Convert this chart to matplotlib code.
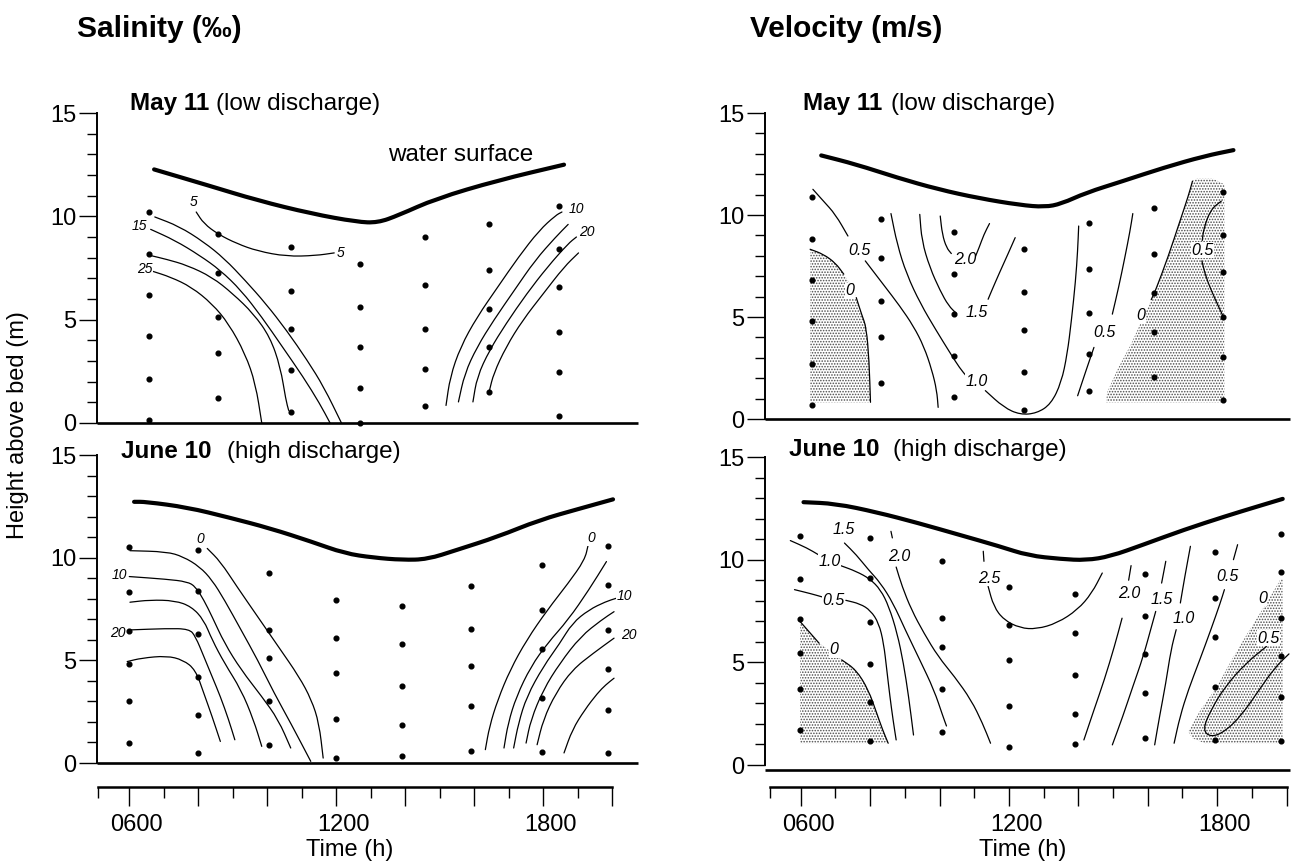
import numpy as np
import matplotlib
matplotlib.use("Agg")
import matplotlib.pyplot as plt
from matplotlib.path import Path
from matplotlib.patches import PathPatch, Polygon
from matplotlib.ticker import FixedLocator, NullFormatter
from matplotlib.transforms import blended_transform_factory

plt.rcParams['font.family'] = ['Liberation Sans', 'DejaVu Sans']
plt.rcParams['hatch.linewidth'] = 0.75

# ---------------------------------------------------------------- data
# sampling stations: time (h) of each profile and heights above bed (m)
sal_may_dot_t = [6.58, 8.58, 10.68, 12.70, 14.58, 16.44, 18.46]
sal_may_dot_h = [[10.2, 8.2, 6.2, 4.2, 2.15, 0.15], [9.15, 7.25, 5.15, 3.4, 1.2],
                 [8.5, 6.4, 4.55, 2.55, 0.55], [7.7, 5.6, 3.7, 1.7, 0.0],
                 [9.0, 6.7, 4.55, 2.6, 0.8], [9.65, 7.4, 5.5, 3.7, 1.5],
                 [10.5, 8.4, 6.6, 4.4, 2.45, 0.35]]
sal_jun_dot_t = [5.98, 7.98, 10.06, 12.0, 13.9, 15.9, 17.95, 19.87]
sal_jun_dot_h = [[10.5, 8.35, 6.45, 4.8, 3.0, 0.95], [10.35, 8.4, 6.3, 4.2, 2.35, 0.5],
                 [9.25, 6.5, 5.1, 3.0, 0.9], [7.95, 6.1, 4.4, 2.15, 0.25],
                 [7.65, 5.8, 3.75, 1.85, 0.35], [8.6, 6.55, 4.7, 2.8, 0.6],
                 [9.65, 7.45, 5.55, 3.15, 0.55], [10.55, 8.65, 6.5, 4.6, 2.6, 0.5]]
vel_may_dot_t = [6.32, 8.30, 10.43, 12.42, 14.30, 16.17, 18.18]
vel_may_dot_h = [[10.9, 8.8, 6.8, 4.8, 2.7, 0.7], [9.8, 7.9, 5.8, 4.0, 1.75],
                 [9.15, 7.1, 5.15, 3.1, 1.1], [8.35, 6.25, 4.35, 2.3, 0.45],
                 [9.6, 7.35, 5.2, 3.2, 1.35], [10.35, 8.1, 6.2, 4.25, 2.05],
                 [11.15, 9.0, 7.2, 5.0, 3.05, 0.95]]
vel_jun_dot_t = [5.98, 7.99, 10.08, 11.99, 13.90, 15.91, 17.95, 19.83]
vel_jun_dot_h = [[11.15, 9.05, 7.1, 5.45, 3.7, 1.7], [11.05, 9.1, 6.95, 4.9, 3.05, 1.15],
                 [9.95, 7.15, 5.75, 3.7, 1.6], [8.65, 6.8, 5.1, 2.85, 0.9],
                 [8.35, 6.45, 4.4, 2.5, 1.0], [9.3, 7.25, 5.4, 3.5, 1.3],
                 [10.35, 8.15, 6.25, 3.8, 1.2], [11.25, 9.4, 7.15, 5.3, 3.3, 1.15]]

# water surface elevation (m above bed)
sal_may_ws_t = [6.72, 8.28, 9.72, 11.28, 12.6, 13.2, 13.8, 14.88, 16.68, 18.6]
sal_may_ws_h = [12.27, 11.5, 10.77, 10.13, 9.73, 9.69, 10.05, 10.85, 11.74, 12.5]
sal_jun_ws_t = [6.14, 6.48, 7.68, 8.88, 10.08, 11.28, 12.24, 13.08, 13.92, 14.64, 15.48,
                16.68, 17.88, 19.08, 20.02]
sal_jun_ws_h = [12.72, 12.72, 12.45, 11.96, 11.43, 10.78, 10.21, 10.0, 9.89, 9.92, 10.37,
                11.02, 11.83, 12.40, 12.84]
vel_may_ws_t = [6.59, 7.60, 8.78, 9.96, 11.14, 12.32, 13.03, 13.51, 14.22, 15.28, 16.46,
                17.64, 18.47]
vel_may_ws_h = [12.92, 12.48, 11.83, 11.26, 10.82, 10.49, 10.39, 10.55, 11.09, 11.66, 12.32,
                12.89, 13.18]
vel_jun_ws_t = [6.08, 7.00, 8.19, 9.37, 10.55, 11.73, 12.56, 13.51, 14.22, 14.92, 15.87,
                17.05, 18.23, 19.18, 19.89]
vel_jun_ws_h = [12.80, 12.73, 12.31, 11.79, 11.22, 10.65, 10.20, 10.03, 9.97, 10.16, 10.73,
                11.46, 12.11, 12.60, 12.96]

# salinity isolines, May 11 (time h, height m)
sal_may_5 = [(7.94, 10.21), (8.16, 9.65), (8.58, 9.13), (9.12, 8.68), (9.72, 8.32),
             (10.56, 8.06), (11.40, 8.10), (11.94, 8.23)]
sal_may_10a = [(6.74, 9.97), (7.44, 9.52), (8.16, 8.76), (8.76, 7.95), (9.36, 6.90),
               (9.96, 5.77), (10.56, 4.48), (11.16, 3.03), (11.64, 1.74), (12.15, 0.0)]
sal_may_15a = [(6.62, 9.37), (7.32, 8.84), (8.04, 8.11), (8.64, 7.39), (9.24, 6.42),
               (9.84, 5.13), (10.44, 3.68), (11.04, 2.23), (11.52, 0.94), (11.82, 0.0)]
sal_may_20a = [(6.60, 8.11), (7.08, 7.92), (7.68, 7.63), (8.40, 7.06), (9.00, 6.26),
               (9.60, 5.29), (10.08, 4.16), (10.38, 2.71), (10.54, 1.10), (10.62, 0.61)]
sal_may_25a = [(6.66, 7.35), (7.20, 7.06), (7.80, 6.58), (8.40, 5.77), (8.88, 4.81),
               (9.36, 3.35), (9.66, 1.90), (9.84, 0.0)]
sal_may_10b = [(15.18, 0.85), (15.30, 2.23), (15.60, 3.68), (16.08, 5.13), (16.68, 6.58),
               (17.28, 8.03), (17.88, 9.32), (18.36, 10.05), (18.54, 10.21)]
sal_may_15b = [(15.54, 1.02), (15.72, 2.39), (16.08, 3.68), (16.56, 4.97), (17.16, 6.42),
               (17.76, 7.87), (18.36, 9.0), (18.72, 9.61)]
sal_may_20b = [(15.96, 1.02), (16.08, 2.23), (16.44, 3.52), (16.92, 4.81), (17.52, 6.26),
               (18.12, 7.55), (18.72, 8.68), (18.96, 9.0)]
sal_may_25b = [(16.44, 1.58), (16.56, 2.39), (16.92, 3.68), (17.40, 4.97), (18.00, 6.26),
               (18.60, 7.55), (19.02, 8.23)]
sal_may_labels = [("5", 7.86, 10.69), ("5", 12.12, 8.23), ("15", 6.30, 9.52),
                  ("25", 6.46, 7.47), ("10", 18.95, 10.37), ("20", 19.25, 9.24)]

# salinity isolines, June 10
sal_jun_0a = [(8.26, 10.45), (8.64, 9.81), (9.12, 8.59), (9.72, 7.13), (10.32, 5.67),
              (10.92, 4.21), (11.28, 3.08), (11.50, 1.94), (11.62, 0.24)]
sal_jun_5a = [(6.02, 10.34), (7.08, 10.29), (7.56, 10.05), (8.04, 9.56), (8.40, 8.91),
              (8.76, 7.94), (9.24, 6.48), (9.72, 5.02), (10.20, 3.40), (10.68, 1.94),
              (11.26, 0.08)]
sal_jun_10a = [(6.00, 9.08), (7.08, 8.95), (7.68, 8.83), (7.92, 8.59), (8.16, 7.94),
               (8.40, 7.13), (8.76, 5.83), (9.24, 4.54), (9.84, 3.24), (10.32, 2.11),
               (10.68, 0.73)]
sal_jun_15a = [(6.02, 7.83), (6.60, 7.94), (7.32, 7.91), (7.80, 7.62), (8.16, 6.97),
               (8.40, 6.00), (8.76, 4.86), (9.24, 3.57), (9.60, 2.11), (9.84, 0.81)]
sal_jun_20a = [(6.00, 6.48), (7.08, 6.55), (7.74, 6.53), (7.92, 6.16), (8.16, 5.19),
               (8.40, 4.21), (8.64, 3.24), (8.88, 2.11), (9.06, 1.13)]
sal_jun_25a = [(5.94, 4.94), (6.36, 5.11), (7.08, 5.22), (7.56, 5.02), (7.92, 4.54),
               (8.16, 3.40), (8.40, 2.27), (8.64, 1.05)]
sal_jun_0b = [(16.32, 0.65), (16.44, 1.78), (16.68, 3.08), (17.04, 4.54), (17.52, 6.0),
              (18.12, 7.46), (18.72, 8.75), (19.20, 9.89), (19.30, 10.62)]
sal_jun_5b = [(16.86, 0.73), (16.98, 1.94), (17.22, 3.24), (17.64, 4.70), (18.12, 5.83),
              (18.72, 6.97), (19.32, 8.43), (19.83, 9.81)]
sal_jun_10b = [(17.14, 0.73), (17.28, 1.94), (17.52, 3.24), (18.00, 4.70), (18.48, 5.83),
               (18.84, 6.81), (19.32, 7.46), (19.81, 7.86), (20.11, 8.02)]
sal_jun_15b = [(17.50, 0.97), (17.64, 2.11), (18.00, 3.57), (18.48, 4.86), (19.08, 6.16),
               (19.69, 6.97), (20.05, 7.37)]
sal_jun_20b = [(17.82, 0.89), (18.00, 2.11), (18.36, 3.40), (18.84, 4.54), (19.45, 5.35),
               (20.05, 6.08)]
sal_jun_25b = [(18.60, 0.49), (18.84, 1.62), (19.20, 2.59), (19.57, 3.40), (19.81, 3.81),
               (20.05, 4.13)]
sal_jun_labels = [("0", 8.06, 10.89), ("10", 5.70, 9.16), ("20", 5.68, 6.35),
                  ("0", 19.39, 10.94), ("10", 20.35, 8.15), ("20", 20.47, 6.21)]

# velocity isolines, May 11
vel_may_0a_up = [(6.27, 8.32), (6.65, 8.08), (7.00, 7.65), (7.24, 7.10)]
vel_may_0a_lo = [(7.60, 5.95), (7.76, 5.10), (7.89, 4.49), (7.97, 2.85), (8.01, 0.82)]
vel_may_zone_a = [(6.27, 8.32), (6.65, 8.08), (7.00, 7.65), (7.24, 7.10), (7.45, 6.55),
                  (7.60, 5.95), (7.76, 5.10), (7.89, 4.49), (7.97, 2.85), (8.01, 0.82),
                  (6.27, 0.82)]
vel_may_zone_b = [(14.80, 0.82), (14.83, 1.31), (15.16, 2.53), (15.52, 3.67), (15.87, 4.98),
                  (16.22, 6.28), (16.58, 7.91), (16.93, 9.71), (17.17, 10.93), (17.29, 11.66),
                  (17.41, 11.78), (17.88, 11.78), (18.21, 11.50), (18.21, 0.82)]
vel_may_0b = [(16.10, 5.85), (16.22, 6.28), (16.58, 7.91), (16.93, 9.71), (17.17, 10.93),
              (17.29, 11.66)]
vel_may_05a_up = [(6.35, 11.26), (6.65, 10.69), (7.00, 10.03), (7.36, 8.97)]
vel_may_05a_lo = [(7.86, 7.75), (8.40, 6.55), (8.85, 5.55), (9.25, 4.55), (9.55, 3.55),
                  (9.78, 2.40), (9.92, 1.40), (9.96, 0.57)]
vel_may_10_l = [(8.60, 10.07), (8.78, 8.56), (9.05, 7.10), (9.45, 5.65), (9.90, 4.35),
                (10.30, 3.25), (10.58, 2.50), (10.79, 2.07)]
vel_may_10_r = [(11.32, 1.39), (11.85, 0.57), (12.32, 0.21), (12.80, 0.28), (13.21, 0.73),
                (13.51, 1.79), (13.68, 3.18), (13.80, 4.81), (13.92, 6.77), (13.98, 8.24),
                (14.01, 9.46)]
vel_may_15_l = [(9.43, 10.03), (9.49, 8.73), (9.72, 7.42), (10.02, 6.28), (10.26, 5.55),
                (10.49, 5.17)]
vel_may_15_r = [(11.40, 5.87), (11.50, 6.28), (11.73, 7.18), (11.97, 8.08), (12.18, 8.89)]
vel_may_20_l = [(10.02, 9.95), (10.08, 9.05), (10.20, 8.40), (10.34, 8.11)]
vel_may_20_r = [(11.02, 7.91), (11.14, 8.40), (11.28, 9.05), (11.44, 9.58)]
vel_may_05b_lo = [(13.98, 1.14), (14.22, 2.37), (14.45, 3.51)]
vel_may_05b_up = [(14.98, 5.14), (15.16, 6.44), (15.34, 7.91), (15.49, 9.22), (15.57, 10.07)]
vel_may_05c_up = [(18.12, 10.68), (17.82, 10.28), (17.62, 9.38), (17.57, 8.75)]
vel_may_05c_lo = [(17.56, 7.75), (17.68, 6.93), (17.92, 5.95), (18.18, 5.01)]
vel_may_labels = [("0.5", 7.69, 8.27), ("0", 7.42, 6.28), ("2.0", 10.73, 7.83),
                  ("1.5", 11.08, 5.22), ("1.0", 11.08, 1.84), ("0.5", 14.76, 4.24),
                  ("0", 15.80, 5.06), ("0.5", 17.58, 8.27)]

# velocity isolines, June 10
vel_jun_zone_a = [(5.98, 6.99), (6.53, 5.93), (6.90, 5.50), (7.18, 5.12), (7.60, 4.63),
                  (7.95, 3.66), (8.19, 2.52), (8.36, 1.71), (8.52, 1.06), (5.98, 1.06)]
vel_jun_0a_up = [(5.98, 6.99), (6.53, 5.93)]
vel_jun_0a_lo = [(7.18, 5.12), (7.60, 4.63), (7.95, 3.66), (8.19, 2.52), (8.36, 1.71),
                 (8.52, 1.06)]
vel_jun_zone_b = [(17.17, 1.63), (17.52, 2.68), (18.00, 3.82), (18.47, 5.28), (18.94, 6.59),
                  (19.42, 7.89), (19.71, 8.70), (19.83, 9.06), (19.89, 9.06), (19.89, 1.06),
                  (17.64, 1.06), (17.29, 1.30)]
vel_jun_05c = [(19.42, 5.77), (18.83, 4.96), (18.23, 3.82), (17.82, 2.68), (17.58, 1.71),
               (17.82, 1.35), (18.23, 1.63), (18.71, 2.44), (19.18, 3.58), (19.65, 4.72),
               (20.07, 5.41)]
vel_jun_10a_up = [(5.70, 10.93), (6.18, 10.57), (6.51, 10.24)]
vel_jun_10a_lo = [(7.15, 9.71), (7.60, 9.43), (7.99, 9.07), (8.30, 8.54), (8.54, 7.72),
                  (8.78, 6.42), (8.96, 4.96), (9.11, 3.33), (9.25, 1.46)]
vel_jun_05a_up = [(5.82, 8.54), (6.30, 8.34), (6.63, 8.18)]
vel_jun_05a_lo = [(7.30, 8.02), (7.71, 7.85), (8.01, 7.53), (8.25, 6.91), (8.39, 5.93),
                  (8.48, 4.63), (8.57, 3.33), (8.66, 2.20), (8.75, 1.22)]
vel_jun_15a = [(7.26, 10.81), (7.60, 10.24), (7.95, 9.51), (8.30, 8.86), (8.66, 7.89),
               (9.01, 6.59), (9.43, 5.12), (9.84, 3.66), (10.10, 2.36), (10.20, 1.90)]
vel_jun_20a_up = [(8.60, 11.38), (8.64, 11.06)]
vel_jun_20a_lo = [(8.75, 9.64), (8.92, 8.70), (9.19, 7.56), (9.55, 6.42), (9.96, 5.28),
                  (10.43, 4.31), (10.91, 3.17), (11.24, 2.03), (11.47, 1.06)]
vel_jun_25_up = [(11.26, 10.41), (11.28, 9.92)]
vel_jun_25_lo = [(11.40, 8.70), (11.56, 7.72), (11.85, 7.07), (12.32, 6.67), (12.80, 6.62),
                 (13.39, 6.91), (13.98, 7.56), (14.39, 8.37), (14.69, 9.35)]
vel_jun_20b_lo = [(14.16, 1.22), (14.45, 2.68), (14.75, 4.15), (15.04, 5.77), (15.26, 7.15)]
vel_jun_20b_up = [(15.45, 9.00), (15.52, 9.71)]
vel_jun_15b_lo = [(14.98, 0.98), (15.28, 2.36), (15.57, 3.82), (15.87, 5.28), (16.11, 6.75),
                  (16.23, 7.48)]
vel_jun_15b_up = [(16.40, 8.86), (16.52, 9.92)]
vel_jun_10b_lo = [(16.20, 0.98), (16.34, 2.36), (16.52, 3.98), (16.67, 5.61), (16.82, 6.59)]
vel_jun_10b_up = [(16.94, 7.89), (17.07, 9.19), (17.23, 10.65)]
vel_jun_05b_lo = [(16.76, 1.06), (16.93, 2.36), (17.17, 3.66), (17.50, 5.12), (17.82, 6.59),
                  (18.09, 7.89), (18.21, 8.54)]
vel_jun_05b_up = [(18.47, 10.0), (18.59, 10.73)]
vel_jun_labels = [("1.5", 7.24, 11.46), ("1.0", 6.83, 9.92), ("0.5", 6.95, 8.02),
                  ("0", 6.95, 5.61), ("2.0", 8.84, 10.16), ("2.5", 11.44, 9.10),
                  ("2.0", 15.46, 8.37), ("1.5", 16.40, 8.05), ("1.0", 17.05, 7.15),
                  ("0.5", 18.29, 9.19), ("0", 19.30, 8.13), ("0.5", 19.48, 6.18)]

time_ticks = [6, 12, 18]
time_tick_labels = ["0600", "1200", "1800"]

# ---------------------------------------------------------------- layout
W, H = 1295, 864
fig = plt.figure(figsize=(W / 100, H / 100), dpi=100)


def rect(x0, x1, y_top, y_bot):
    return [x0 / W, 1 - y_bot / H, (x1 - x0) / W, (y_bot - y_top) / H]


def smooth(pts):
    p = np.asarray(pts, dtype=float)
    if len(p) < 3:
        return Path(p)
    mids = (p[:-1] + p[1:]) / 2
    verts = [p[0], mids[0]]
    codes = [Path.MOVETO, Path.LINETO]
    for i in range(1, len(p) - 1):
        verts += [p[i], mids[i]]
        codes += [Path.CURVE3, Path.CURVE3]
    verts.append(p[-1])
    codes.append(Path.LINETO)
    return Path(verts, codes)


def curve(ax, pts, lw=0.9):
    ax.add_patch(PathPatch(smooth(pts), fill=False, ec='k', lw=lw,
                           capstyle='round', joinstyle='round', clip_on=False))


def stipple(ax, pts):
    ax.add_patch(Polygon(pts, closed=True, fc='white', ec='0.3', lw=0,
                         hatch='......', zorder=0.5))


def panel(rc, xlim, base=0.0):
    ax = fig.add_axes(rc)
    ax.set_xlim(*xlim)
    ax.set_ylim(0, 15)
    for s in ('top', 'right', 'bottom'):
        ax.spines[s].set_visible(False)
    ax.spines['left'].set_linewidth(1.4)
    ax.set_xticks([])
    ax.yaxis.set_major_locator(FixedLocator([0, 5, 10, 15]))
    ax.yaxis.set_minor_locator(FixedLocator(range(0, 16)))
    ax.tick_params(axis='y', which='major', length=13, width=1.0, labelsize=17, pad=2)
    ax.tick_params(axis='y', which='minor', length=7.5, width=1.0)
    ax.plot(xlim, [base, base], color='k', lw=1.9, clip_on=False, solid_capstyle='butt')
    return ax


def dots(ax, ts, hs):
    for t, col in zip(ts, hs):
        ax.plot([t] * len(col), col, 'o', ms=3.4, color='k', clip_on=False, zorder=3)


def labels(ax, items, size):
    for s, t, h in items:
        ax.text(t, h, s, fontsize=size, style='italic', ha='center', va='center',
                zorder=4, bbox=dict(fc='white', ec='none', pad=0.3))


def surface(ax, ts, hs):
    curve(ax, list(zip(ts, hs)), lw=3.0)


def title(ax, t, h, bold, t2, rest):
    ax.text(t, h, bold, fontsize=17.5, fontweight='bold', ha='left', va='baseline',
            clip_on=False)
    ax.text(t2, h, rest, fontsize=17.5, ha='left', va='baseline', clip_on=False)


def time_axis(x0, x1, xlim):
    tax = fig.add_axes(rect(x0, x1, 787, 812))
    tax.set_xlim(*xlim)
    tax.set_ylim(0, 1)
    for s in ('left', 'right', 'bottom'):
        tax.spines[s].set_visible(False)
    tax.spines['top'].set_bounds(5.1, 20.0)
    tax.spines['top'].set_linewidth(1.8)
    tax.set_yticks([])
    tax.xaxis.set_major_locator(FixedLocator(range(6, 21, 2)))
    tax.xaxis.set_minor_locator(FixedLocator([5.1] + list(range(7, 20, 2))))
    tax.xaxis.set_major_formatter(NullFormatter())
    tax.tick_params(axis='x', which='both', bottom=False, top=True, direction='in',
                    labelbottom=False, labeltop=False, width=1.0)
    tax.tick_params(axis='x', which='major', length=13.5)
    tax.tick_params(axis='x', which='minor', length=8)
    tax.patch.set_visible(False)
    tr = blended_transform_factory(tax.transData, fig.transFigure)
    for t, s in zip(time_ticks, time_tick_labels):
        tax.text(t + 0.22, 1 - 831 / H, s, fontsize=17, ha='center', va='baseline',
                 transform=tr)
    tax.text(12.4, 1 - 856 / H, "Time (h)", fontsize=17, ha='center', va='baseline',
             transform=tr)
    return tax


left_xlim = (5.065, 20.75)
right_xlim = (4.97, 20.10)

ax1 = panel(rect(97.0, 638.2, 113, 423), left_xlim)
ax2 = panel(rect(97.0, 638.2, 455, 763), left_xlim)
ax3 = panel(rect(765.0, 1290.0, 113, 419), right_xlim)
ax4 = panel(rect(765.0, 1290.0, 457, 765), right_xlim, base=-0.25)

# --- salinity, May 11
surface(ax1, sal_may_ws_t, sal_may_ws_h)
for c in (sal_may_5, sal_may_10a, sal_may_15a, sal_may_20a, sal_may_25a,
          sal_may_10b, sal_may_15b, sal_may_20b, sal_may_25b):
    curve(ax1, c)
dots(ax1, sal_may_dot_t, sal_may_dot_h)
labels(ax1, sal_may_labels, 10)
ax1.text(13.5, 12.98, "water surface", fontsize=17.5, ha='left', va='center')
title(ax1, 6.02, 15.15, "May 11", 8.50, "(low discharge)")

# --- salinity, June 10
surface(ax2, sal_jun_ws_t, sal_jun_ws_h)
for c in (sal_jun_0a, sal_jun_5a, sal_jun_10a, sal_jun_15a, sal_jun_20a, sal_jun_25a,
          sal_jun_0b, sal_jun_5b, sal_jun_10b, sal_jun_15b, sal_jun_20b, sal_jun_25b):
    curve(ax2, c)
dots(ax2, sal_jun_dot_t, sal_jun_dot_h)
labels(ax2, sal_jun_labels, 10)
title(ax2, 5.76, 14.84, "June 10", 8.82, "(high discharge)")

# --- velocity, May 11
stipple(ax3, vel_may_zone_a)
stipple(ax3, vel_may_zone_b)
surface(ax3, vel_may_ws_t, vel_may_ws_h)
for c in (vel_may_0a_up, vel_may_0a_lo, vel_may_0b, vel_may_05a_up, vel_may_05a_lo,
          vel_may_10_l, vel_may_10_r, vel_may_15_l, vel_may_15_r, vel_may_20_l,
          vel_may_20_r, vel_may_05b_lo, vel_may_05b_up, vel_may_05c_up, vel_may_05c_lo):
    curve(ax3, c)
dots(ax3, vel_may_dot_t, vel_may_dot_h)
labels(ax3, vel_may_labels, 11.5)
title(ax3, 6.06, 15.17, "May 11", 8.60, "(low discharge)")

# --- velocity, June 10
stipple(ax4, vel_jun_zone_a)
stipple(ax4, vel_jun_zone_b)
surface(ax4, vel_jun_ws_t, vel_jun_ws_h)
for c in (vel_jun_0a_up, vel_jun_0a_lo, vel_jun_05c, vel_jun_10a_up, vel_jun_10a_lo,
          vel_jun_05a_up, vel_jun_05a_lo, vel_jun_15a, vel_jun_20a_up, vel_jun_20a_lo,
          vel_jun_25_up, vel_jun_25_lo, vel_jun_20b_lo, vel_jun_20b_up, vel_jun_15b_lo,
          vel_jun_15b_up, vel_jun_10b_lo, vel_jun_10b_up, vel_jun_05b_lo, vel_jun_05b_up):
    curve(ax4, c)
dots(ax4, vel_jun_dot_t, vel_jun_dot_h)
labels(ax4, vel_jun_labels, 11.5)
title(ax4, 5.65, 15.03, "June 10", 8.66, "(high discharge)")

# --- time axes
time_axis(97.0, 638.2, left_xlim)
time_axis(765.0, 1290.0, right_xlim)

# --- headings
fig.text(77 / W, 1 - 37 / H, "Salinity (‰)", fontsize=21.5, fontweight='bold',
         ha='left', va='baseline')
fig.text(750 / W, 1 - 37 / H, "Velocity (m/s)", fontsize=21.5, fontweight='bold',
         ha='left', va='baseline')
fig.text(18 / W, 1 - 425 / H, "Height above bed (m)", fontsize=17, rotation=90,
         ha='center', va='center')

fig.savefig("out.png", dpi=100, facecolor='white')
